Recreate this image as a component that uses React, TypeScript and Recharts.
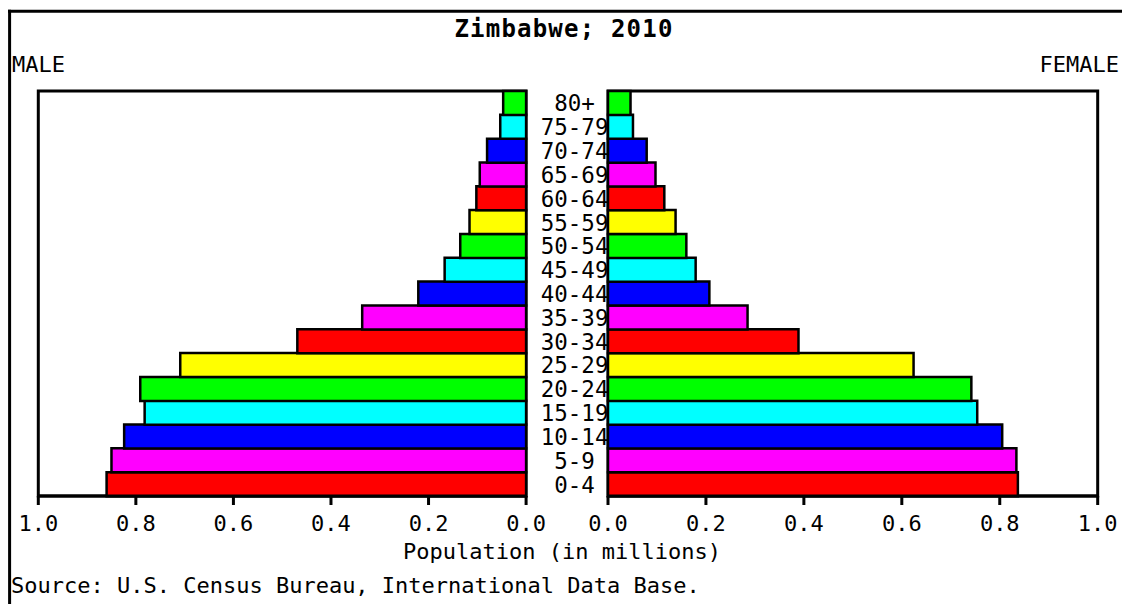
import React from 'react';
import { BarChart, Bar, XAxis, YAxis, Cell, ReferenceArea } from 'recharts';

const ages = ['0-4', '5-9', '10-14', '15-19', '20-24', '25-29', '30-34', '35-39', '40-44', '45-49', '50-54', '55-59', '60-64', '65-69', '70-74', '75-79', '80+'];
const male = [0.860, 0.850, 0.824, 0.782, 0.791, 0.709, 0.469, 0.336, 0.221, 0.167, 0.135, 0.116, 0.102, 0.095, 0.080, 0.053, 0.047];
const female = [0.837, 0.834, 0.805, 0.754, 0.742, 0.624, 0.389, 0.285, 0.207, 0.179, 0.160, 0.138, 0.115, 0.097, 0.079, 0.051, 0.046];
const barColors = ['#ff0000', '#ff00ff', '#0000ff', '#00ffff', '#00ff00', '#ffff00', '#ff0000', '#ff00ff', '#0000ff', '#00ffff', '#00ff00', '#ffff00', '#ff0000', '#ff00ff', '#0000ff', '#00ffff', '#00ff00'];
const xTicks = [0, 0.2, 0.4, 0.6, 0.8, 1.0];

const title = 'Zimbabwe; 2010';
const axisTitle = 'Population (in millions)';
const source = 'Source: U.S. Census Bureau, International Data Base.';

const data = ages.map((age, i) => ({ age, male: male[i], female: female[i] }));

const FONT = 'DejaVu Sans Mono';

const AgeTick = (props: any) => {
  const { x, y, payload } = props;
  return (
    <text x={x + 40.5} y={y + 8.5} textAnchor="middle" fontFamily={FONT} fontSize={22.5} fill="#000">
      {payload.value}
    </text>
  );
};

const xAxisCommon = {
  type: 'number' as const,
  domain: [0, 1],
  ticks: xTicks,
  interval: 0 as const,
  height: 60,
  tickSize: 9,
  tickMargin: 10,
  tickFormatter: (v: number) => v.toFixed(1),
  axisLine: { stroke: '#000', strokeWidth: 3 },
  tickLine: { stroke: '#000', strokeWidth: 3 },
  tick: { fill: '#000', fontSize: 22, fontFamily: FONT },
};

export default function App() {
  return (
    <div style={{ position: 'absolute', left: 0, top: 0, width: 1122, height: 604, background: '#fff', overflow: 'hidden' }}>
      <div style={{ position: 'absolute', left: 0, top: 0 }}>
        <BarChart
          width={607}
          height={604}
          data={data}
          layout="vertical"
          barCategoryGap={0}
          margin={{ top: 91, right: 0, bottom: 48, left: 38.3 }}
        >
          <XAxis {...xAxisCommon} reversed />
          <YAxis
            type="category"
            dataKey="age"
            orientation="right"
            width={80.9}
            reversed
            interval={0}
            tick={<AgeTick />}
            axisLine={false}
            tickLine={false}
          />
          <Bar dataKey="male" isAnimationActive={false} stroke="#000" strokeWidth={2.5}>
            {data.map((d, i) => (
              <Cell key={d.age} fill={barColors[i]} />
            ))}
          </Bar>
          <ReferenceArea x1={0} x2={1} fill="none" fillOpacity={0} stroke="#000" strokeWidth={3} ifOverflow="visible" />
        </BarChart>
      </div>
      <div style={{ position: 'absolute', left: 567.6, top: 0 }}>
        <BarChart
          width={554.4}
          height={604}
          data={data}
          layout="vertical"
          barCategoryGap={0}
          margin={{ top: 91, right: 24.7, bottom: 48, left: 40 }}
        >
          <XAxis {...xAxisCommon} />
          <YAxis type="category" dataKey="age" reversed hide width={0} />
          <Bar dataKey="female" isAnimationActive={false} stroke="#000" strokeWidth={2.5}>
            {data.map((d, i) => (
              <Cell key={d.age} fill={barColors[i]} />
            ))}
          </Bar>
          <ReferenceArea x1={0} x2={1} fill="none" fillOpacity={0} stroke="#000" strokeWidth={3} ifOverflow="visible" />
        </BarChart>
      </div>
      <svg width={1122} height={604} style={{ position: 'absolute', left: 0, top: 0, pointerEvents: 'none' }}>
        <line x1={9.6} y1={9.7} x2={9.6} y2={604} stroke="#000" strokeWidth={3} />
        <line x1={8} y1={11.2} x2={1122} y2={11.2} stroke="#000" strokeWidth={3} />
        <text x={564} y={37} textAnchor="middle" fontFamily={FONT} fontSize={24} fontWeight="bold" letterSpacing={1.2} fill="#000">
          {title}
        </text>
        <text x={12} y={72} fontFamily={FONT} fontSize={22} fill="#000">MALE</text>
        <text x={1119} y={72} textAnchor="end" fontFamily={FONT} fontSize={22} fill="#000">FEMALE</text>
        <text x={562} y={559} textAnchor="middle" fontFamily={FONT} fontSize={22} fill="#000">
          {axisTitle}
        </text>
        <text x={11} y={593} fontFamily={FONT} fontSize={22} fill="#000">
          {source}
        </text>
      </svg>
    </div>
  );
}
